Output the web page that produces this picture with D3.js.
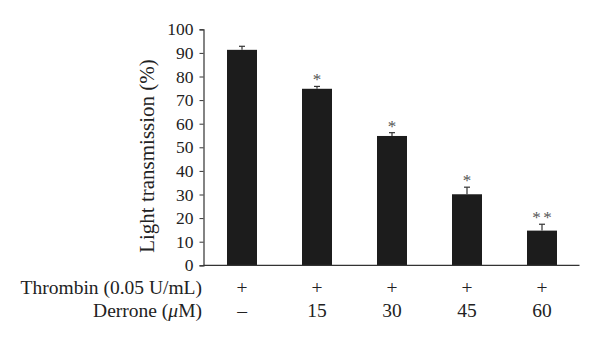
<!DOCTYPE html>
<html>
<head>
<meta charset="utf-8">
<script src="https://cdn.jsdelivr.net/npm/d3@7/dist/d3.min.js"></script>
<style>
  html, body { margin: 0; padding: 0; background: #fff; }
  svg { display: block; }
  text { font-family: "Liberation Serif", "DejaVu Serif", serif; fill: #222; }
</style>
</head>
<body>
<svg id="chart" width="600" height="343"></svg>
<script>
// Light transmission after thrombin stimulation with increasing derrone doses
const groups = ["g1", "g2", "g3", "g4", "g5"];
const thrombinRow = ["+", "+", "+", "+", "+"];
const derroneRow = ["\u2013", "15", "30", "45", "60"];
const meanValues = [91.3, 74.8, 54.8, 30.1, 14.7];
const errorValues = [1.5, 1.0, 1.4, 3.0, 2.7];
const significance = ["", "*", "*", "*", "**"];
const yTicks = [0, 10, 20, 30, 40, 50, 60, 70, 80, 90, 100];

const svg = d3.select("#chart");
const ink = "#1c1c1c";

const x = d3.scaleBand()
  .domain(groups)
  .range([204.5, 579.5])
  .paddingInner(0.6)
  .paddingOuter(0.3);

const y = d3.scaleLinear()
  .domain([0, 100])
  .range([265.3, 29.3]);

const center = d => x(d) + x.bandwidth() / 2;

// Bars
svg.append("g").selectAll("rect")
  .data(groups)
  .join("rect")
  .attr("x", d => x(d))
  .attr("width", x.bandwidth())
  .attr("y", (d, i) => y(meanValues[i]))
  .attr("height", (d, i) => y(0) - y(meanValues[i]))
  .attr("fill", ink);

// Upper error bars with caps
const err = svg.append("g").attr("stroke", "#333").attr("stroke-width", 1.2);
groups.forEach((g, i) => {
  const cx = center(g);
  const top = y(meanValues[i] + errorValues[i]);
  err.append("line")
    .attr("x1", cx).attr("x2", cx)
    .attr("y1", y(meanValues[i])).attr("y2", top);
  err.append("line")
    .attr("x1", cx - 3).attr("x2", cx + 3)
    .attr("y1", top).attr("y2", top);
});

// Significance markers, one glyph per asterisk
const stars = svg.append("g");
groups.forEach((g, i) => {
  const marks = significance[i].split("");
  marks.forEach((m, k) => {
    stars.append("text")
      .attr("x", center(g) + (k - (marks.length - 1) / 2) * 11)
      .attr("y", y(meanValues[i] + errorValues[i]) - 1)
      .attr("text-anchor", "middle")
      .attr("font-size", 17)
      .style("fill", "#555")
      .text(m);
  });
});

// Y axis
const yAxis = svg.append("g")
  .attr("transform", "translate(203.5,0)")
  .call(d3.axisLeft(y).tickValues(yTicks).tickSize(4).tickPadding(6));
yAxis.select(".domain").attr("stroke", "#333").attr("stroke-width", 1.2);
yAxis.selectAll(".tick line").attr("stroke", "#333");
yAxis.selectAll(".tick text")
  .attr("font-family", "Liberation Serif, serif")
  .attr("font-size", 17.5)
  .attr("fill", "#222");

// X baseline
svg.append("line")
  .attr("x1", 203.5).attr("x2", x.range()[1])
  .attr("y1", y(0)).attr("y2", y(0))
  .attr("stroke", "#333").attr("stroke-width", 1.2);

// Y axis title
svg.append("text")
  .attr("transform", `translate(154,${(56 + 256) / 2}) rotate(-90)`)
  .attr("text-anchor", "middle")
  .attr("font-size", 21)
  .text("Light transmission (%)");

// Treatment rows under the bars
const rows = [
  { label: "Thrombin (0.05 U/mL)", values: thrombinRow, y: 294 },
  { label: "Derrone (", italic: "\u03bc", tail: "M)", values: derroneRow, y: 317 }
];
rows.forEach(r => {
  const t = svg.append("text")
    .attr("x", 202)
    .attr("y", r.y)
    .attr("text-anchor", "end")
    .attr("font-size", 19.5);
  t.append("tspan").text(r.label);
  if (r.italic) {
    t.append("tspan").attr("font-style", "italic").text(r.italic);
    t.append("tspan").text(r.tail);
  }
  svg.append("g").selectAll("text")
    .data(groups)
    .join("text")
    .attr("x", center)
    .attr("y", r.y)
    .attr("text-anchor", "middle")
    .attr("font-size", 19.5)
    .text((d, i) => r.values[i]);
});
</script>
</body>
</html>
